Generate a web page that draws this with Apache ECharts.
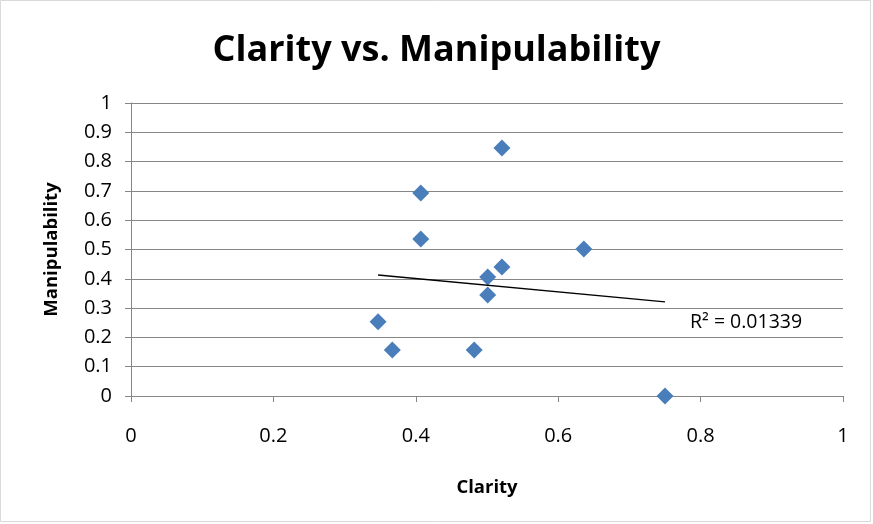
<!DOCTYPE html>
<html><head><meta charset="utf-8">
<script src="https://cdn.jsdelivr.net/npm/echarts@6/dist/echarts.min.js"></script>
<style>html,body{margin:0;padding:0;background:#fff}#c{width:873px;height:524px}</style>
</head><body><div id="c"></div>
<script>
const clarity = [0.521, 0.407, 0.407, 0.636, 0.521, 0.501, 0.501, 0.347, 0.367, 0.482, 0.750];
const manipulability = [0.846, 0.693, 0.536, 0.502, 0.440, 0.406, 0.345, 0.253, 0.157, 0.157, 0.000];
const trendX = [0.347, 0.750];
const trendY = [0.413, 0.321];
const r2Label = 'R² = 0.01339';
const titleText = 'Clarity vs. Manipulability';
const xName = 'Clarity';
const yName = 'Manipulability';

const font = 'Open Sans, Liberation Sans, sans-serif';
const chart = echarts.init(document.getElementById('c'));
chart.setOption({
  animation: false,
  title: { text: titleText, left: 'center', top: 28,
    textStyle: { fontFamily: font, fontSize: 36, fontWeight: 'bold', color: '#000' } },
  grid: { left: 131, right: 30, top: 103, bottom: 128 },
  xAxis: { type: 'value', min: 0, max: 1, interval: 0.2,
    name: xName, nameLocation: 'middle', nameGap: 82,
    nameTextStyle: { fontFamily: font, fontSize: 18.5, fontWeight: 'bold', color: '#000' },
    axisLine: { lineStyle: { color: '#868686' } },
    axisTick: { show: true, length: 6, lineStyle: { color: '#868686' } },
    axisLabel: { fontFamily: font, fontSize: 20, color: '#000', margin: 30 },
    splitLine: { show: false } },
  yAxis: { type: 'value', min: 0, max: 1, interval: 0.1,
    name: yName, nameLocation: 'middle', nameGap: 70,
    nameTextStyle: { fontFamily: font, fontSize: 18.5, fontWeight: 'bold', color: '#000' },
    axisLine: { show: true, lineStyle: { color: '#868686' } },
    axisTick: { show: true, length: 6, lineStyle: { color: '#868686' } },
    axisLabel: { fontFamily: font, fontSize: 20, color: '#000', margin: 19 },
    splitLine: { lineStyle: { color: '#868686' } } },
  series: [
    { type: 'scatter', symbol: 'diamond', symbolSize: 17,
      itemStyle: { color: '#4a7ebb', opacity: 1 },
      data: clarity.map((x, i) => [x, manipulability[i]]), z: 3 },
    { type: 'line', symbol: 'none', lineStyle: { color: '#000', width: 1.3 },
      data: trendX.map((x, i) => [x, trendY[i]]), z: 4 }
  ],
  graphic: [
    { type: 'rect', shape: { x: 0.5, y: 0.5, width: 870, height: 521 },
      style: { fill: 'none', stroke: '#d9d9d9', lineWidth: 1 } },
    { type: 'text', left: 690, top: 312,
      style: { text: r2Label, fontFamily: font, fontSize: 19.5, fill: '#000' } }
  ]
});
</script></body></html>
